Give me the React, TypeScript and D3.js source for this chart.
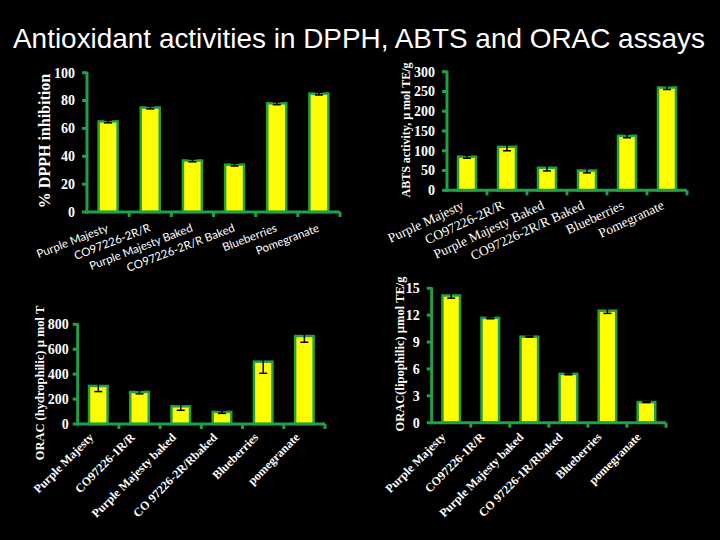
import React from "react";
import * as d3 from "d3";

const title = "Antioxidant activities in DPPH, ABTS and ORAC assays";

const dpphCategories = ["Purple Majesty", "CO97226-2R/R", "Purple Majesty Baked", "CO97226-2R/R Baked", "Blueberries", "Pomegranate"];
const dpphValues = [65, 75, 37, 34, 78, 85];
const dpphErrors = [1, 1, 1, 1, 1, 1];
const dpphTicks = [0, 20, 40, 60, 80, 100];

const abtsCategories = ["Purple Majesty", "CO97226-2R/R", "Purple Majesty Baked", "CO97226-2R/R Baked", "Blueberries", "Pomegranate"];
const abtsValues = [85, 110, 57, 50, 138, 260];
const abtsErrors = [4, 10, 8, 6, 5, 5];
const abtsTicks = [0, 50, 100, 150, 200, 250, 300];

const hydroCategories = ["Purple Majesty", "CO97226-1R/R", "Purple Majesty baked", "CO 97226-2R/Rbaked", "Blueberries", "pomegranate"];
const hydroValues = [305, 257, 142, 97, 500, 706];
const hydroErrors = [45, 15, 32, 12, 93, 50];
const hydroTicks = [0, 200, 400, 600, 800];

const lipoCategories = ["Purple Majesty", "CO97226-1R/R", "Purple Majesty baked", "CO 97226-1R/Rbaked", "Blueberries", "pomegranate"];
const lipoValues = [14.2, 11.7, 9.6, 5.45, 12.5, 2.3];
const lipoErrors = [0.3, 0.1, 0.05, 0.1, 0.3, 0.05];
const lipoTicks = [0, 3, 6, 9, 12, 15];

const GREEN = "#21a04a";
const YELLOW = "#ffff00";
const SERIF = "'Liberation Serif', 'DejaVu Serif', serif";
const SANS = "Lato, 'Liberation Sans', sans-serif";

type PanelProps = {
  cats: string[];
  vals: number[];
  errs: number[];
  ticks: number[];
  x0: number; x1: number; y0: number; y1: number;
  tickFont: string; tickSize: number; tickGap: number;
  labFont: string; labSize: number; labWeight: string; labAngle: number; labDx: number; labDy: number;
  yLabel: string; yLabX: number; yLabY: number; yLabSize: number;
};

function Panel(p: PanelProps) {
  const x = d3.scaleBand<string>().domain(p.cats).range([p.x0, p.x1]).paddingInner(0.55).paddingOuter(0.275);
  const step = (p.x1 - p.x0) / p.cats.length;
  const maxT = p.ticks[p.ticks.length - 1];
  const y = d3.scaleLinear().domain([0, maxT]).range([p.y0, p.y1]);
  const bw = x.bandwidth();
  return (
    <g>
      {p.cats.map((c, i) => {
        const bx = x(c)!;
        const v = p.vals[i];
        const e = p.errs[i];
        const cx = bx + bw / 2;
        return (
          <g key={c + i}>
            <rect x={bx} y={y(v)} width={bw} height={p.y0 - y(v)} fill={YELLOW} stroke={GREEN} strokeWidth={2.5} />
            <line x1={cx} x2={cx} y1={y(v - e)} y2={y(v + e)} stroke="#000" strokeWidth={1.5} />
            <line x1={cx - 4} x2={cx + 4} y1={y(v - e)} y2={y(v - e)} stroke="#000" strokeWidth={1.5} />
            <line x1={cx - 4} x2={cx + 4} y1={y(v + e)} y2={y(v + e)} stroke="#000" strokeWidth={1.5} />
            <text
              transform={`translate(${cx + p.labDx},${p.y0 + p.labDy}) rotate(${p.labAngle})`}
              textAnchor="end"
              fill="#fff"
              fontFamily={p.labFont}
              fontSize={p.labSize}
              fontWeight={p.labWeight}
            >
              {c}
            </text>
          </g>
        );
      })}
      <line x1={p.x0} x2={p.x0} y1={p.y1 - 1} y2={p.y0 + 1.5} stroke={GREEN} strokeWidth={3} />
      <line x1={p.x0 - 1.5} x2={p.x1} y1={p.y0} y2={p.y0} stroke={GREEN} strokeWidth={3} />
      {p.ticks.map((t) => (
        <g key={"t" + t}>
          <line x1={p.x0 - 5} x2={p.x0} y1={y(t)} y2={y(t)} stroke={GREEN} strokeWidth={3} />
          <text x={p.x0 - p.tickGap} y={y(t)} dy="0.35em" textAnchor="end" fill="#fff" fontFamily={p.tickFont} fontSize={p.tickSize} fontWeight="bold">
            {t}
          </text>
        </g>
      ))}
      {d3.range(1, p.cats.length + 1).map((i) => (
        <line key={"xt" + i} x1={p.x0 + step * i} x2={p.x0 + step * i} y1={p.y0} y2={p.y0 + 5} stroke={GREEN} strokeWidth={3} />
      ))}
      <text
        transform={`translate(${p.yLabX},${p.yLabY}) rotate(-90)`}
        textAnchor="middle"
        fill="#fff"
        fontFamily={SERIF}
        fontWeight="bold"
        fontSize={p.yLabSize}
      >
        {p.yLabel}
      </text>
    </g>
  );
}

export default function App() {
  return (
    <svg width={720} height={540} style={{ position: "absolute", left: 0, top: 0, background: "#000" }}>
      <rect width={720} height={540} fill="#000" />
      <text x={13} y={48} fill="#fff" fontFamily="'Liberation Sans', Arial, sans-serif" fontSize={27.5} textLength={692} lengthAdjust="spacingAndGlyphs">
        {title}
      </text>
      <Panel
        cats={dpphCategories} vals={dpphValues} errs={dpphErrors} ticks={dpphTicks}
        x0={87} x1={340} y0={212} y1={72.7}
        tickFont={SERIF} tickSize={14} tickGap={12}
        labFont={SANS} labSize={11.5} labWeight="normal" labAngle={-21} labDx={1} labDy={19}
        yLabel="% DPPH inhibition" yLabX={50} yLabY={141} yLabSize={16}
      />
      <Panel
        cats={abtsCategories} vals={abtsValues} errs={abtsErrors} ticks={abtsTicks}
        x0={447} x1={687} y0={190.3} y1={71.7}
        tickFont={SERIF} tickSize={14} tickGap={12}
        labFont={SERIF} labSize={13.5} labWeight="normal" labAngle={-25} labDx={-2} labDy={18}
        yLabel="ABTS activity, µ mol TE/g" yLabX={410} yLabY={130} yLabSize={12}
      />
      <Panel
        cats={hydroCategories} vals={hydroValues} errs={hydroErrors} ticks={hydroTicks}
        x0={77.7} x1={325} y0={424} y1={324.3}
        tickFont={SERIF} tickSize={14} tickGap={9}
        labFont={SERIF} labSize={12} labWeight="bold" labAngle={-45} labDx={-4} labDy={14}
        yLabel="ORAC (hydrophilic) µ mol T" yLabX={44} yLabY={383} yLabSize={12.5}
      />
      <Panel
        cats={lipoCategories} vals={lipoValues} errs={lipoErrors} ticks={lipoTicks}
        x0={431.7} x1={666} y0={422.7} y1={288.3}
        tickFont={SERIF} tickSize={14} tickGap={12}
        labFont={SERIF} labSize={12} labWeight="bold" labAngle={-45} labDx={-5} labDy={15}
        yLabel="ORAC(lipophilic) µmol TE/g" yLabX={404} yLabY={354} yLabSize={12.5}
      />
    </svg>
  );
}
